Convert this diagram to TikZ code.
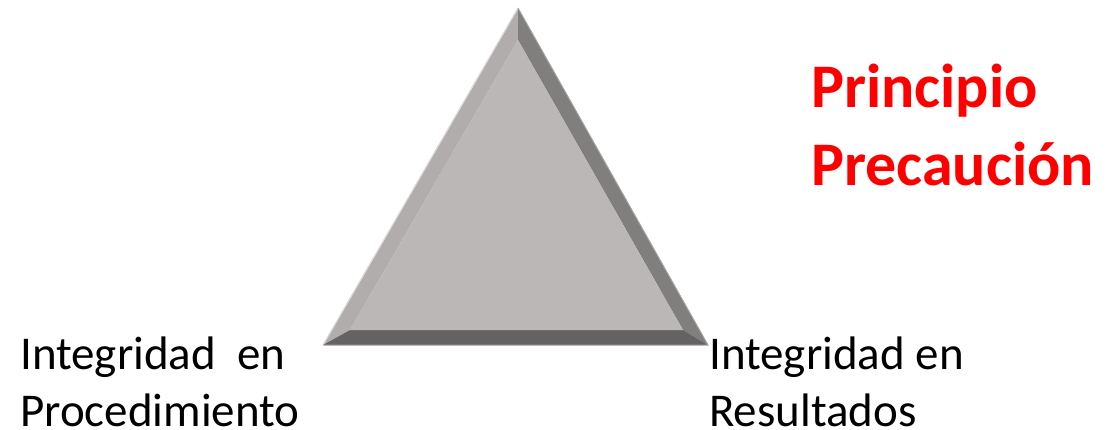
\documentclass[tikz,border=0pt]{standalone}
\usepackage{fontspec}
\setmainfont{Carlito}
\definecolor{facec}{HTML}{BAB7B6}
\definecolor{leftc}{HTML}{B0ADAC}
\definecolor{rightc}{HTML}{807F7D}
\definecolor{bottomc}{HTML}{646262}
\definecolor{hilite}{HTML}{DCDCDC}
\definecolor{edgec}{HTML}{A4A4A4}
\definecolor{titlered}{HTML}{FF0000}
\tikzset{
  label/.style={anchor=base west, inner sep=0pt, text depth=0pt, font=\fontsize{47}{56}\selectfont, text=black},
  title/.style={anchor=base west, inner sep=0pt, font=\fontsize{62}{74}\selectfont\bfseries, text=titlered},
}
\begin{document}
\begin{tikzpicture}[x=1pt,y=-1pt]
\useasboundingbox (0,0) rectangle (1114,429);
% outer and inner vertices
\coordinate (A) at (518,8);
\coordinate (B) at (323,345);
\coordinate (C) at (708,345);
\coordinate (Ai) at (518,40);
\coordinate (Bi) at (350,330);
\coordinate (Ci) at (683,330);
% bevels
\fill[leftc] (A) -- (B) -- (Bi) -- (Ai) -- cycle;
\fill[rightc] (A) -- (Ai) -- (Ci) -- (C) -- cycle;
\fill[bottomc] (B) -- (C) -- (Ci) -- (Bi) -- cycle;
\fill[facec] (Ai) -- (Bi) -- (Ci) -- cycle;
\draw[hilite, line width=1.2pt] (A) -- (B);
\draw[edgec, line width=1pt] (A) -- (C) -- (B);
% labels
\node[label] (l1) at (20,369) {Integridad\ \ en};
\node[label] (l2) at (20,426) {Procedimiento};
\node[label] (r1) at (709,369) {Integridad en};
\node[label] (r2) at (709,426) {Resultados};
\node[title] (t1) at (811,107) {Principio};
\node[title] (t2) at (811,185) {Precaución};
\end{tikzpicture}
\end{document}
